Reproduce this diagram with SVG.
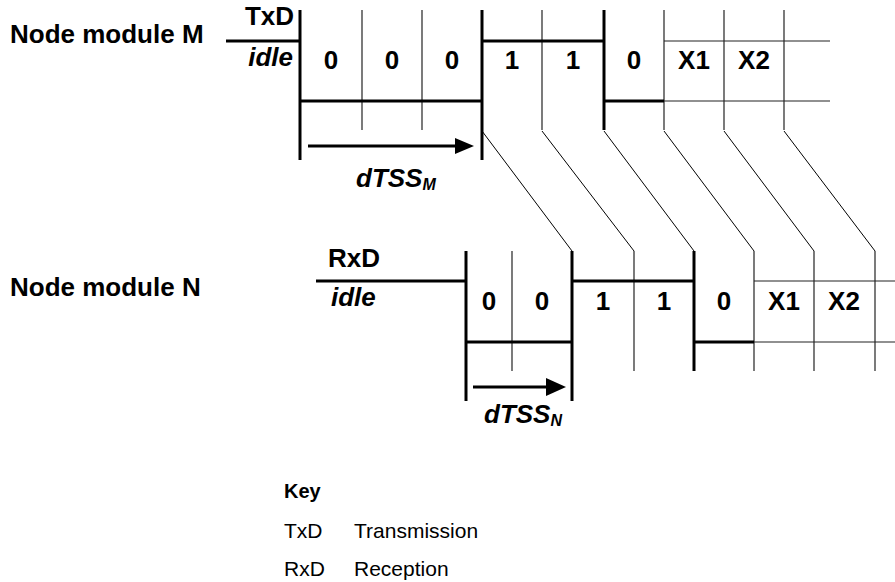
<svg xmlns="http://www.w3.org/2000/svg" width="895" height="582" viewBox="0 0 895 582">
<style>
text{font-family:"Liberation Sans",Arial,Helvetica,sans-serif;fill:#000}
.lbl{font-size:26px;font-weight:bold}
.bi{font-size:26px;font-weight:bold;font-style:italic}
.sub{font-size:16px;font-weight:bold;font-style:italic}
.d{font-size:26px;font-weight:bold;text-anchor:middle}
.k{font-size:21px}
.kb{font-size:20px;font-weight:bold}
.thick{stroke:#000;stroke-width:3;fill:none}
.thin{stroke:#222;stroke-width:1.2;fill:none}
.diag{stroke:#000;stroke-width:1;fill:none}
</style>

<g id="node-M">
<text class="lbl" x="10" y="43">Node module M</text>
<text class="lbl" x="294" y="25" text-anchor="end" font-size="25">TxD</text>
<text class="bi" x="293" y="66" text-anchor="end">idle</text>
<line class="thick" x1="226" y1="41" x2="300" y2="41"/>
<line class="thick" x1="300" y1="10" x2="300" y2="160"/>
<line class="thick" x1="482" y1="10" x2="482" y2="160"/>
<line class="thick" x1="604" y1="10" x2="604" y2="130"/>
<line class="thin" x1="362" y1="10" x2="362" y2="130"/>
<line class="thin" x1="422" y1="10" x2="422" y2="130"/>
<line class="thin" x1="542" y1="10" x2="542" y2="130"/>
<line class="thin" x1="664" y1="10" x2="664" y2="130"/>
<line class="thin" x1="724" y1="10" x2="724" y2="130"/>
<line class="thin" x1="784" y1="10" x2="784" y2="130"/>
<line class="thick" x1="300" y1="101" x2="482" y2="101"/>
<line class="thick" x1="482" y1="41" x2="604" y2="41"/>
<line class="thick" x1="604" y1="101" x2="664" y2="101"/>
<line class="thin" x1="664" y1="41" x2="830" y2="41"/>
<line class="thin" x1="664" y1="101" x2="830" y2="101"/>
<text class="d" x="331" y="69">0</text>
<text class="d" x="392" y="69">0</text>
<text class="d" x="452" y="69">0</text>
<text class="d" x="512" y="69">1</text>
<text class="d" x="573" y="69">1</text>
<text class="d" x="634" y="69">0</text>
<text class="d" x="694" y="69">X1</text>
<text class="d" x="754" y="69">X2</text>
<line class="thick" x1="308" y1="146" x2="456" y2="146"/>
<path d="M455,138 L474,146 L455,154 Z" fill="#000"/>
<text class="bi" x="356" y="187">dTSS<tspan class="sub" dy="3">M</tspan></text>
</g>

<g id="node-N">
<text class="lbl" x="10" y="296">Node module N</text>
<text class="lbl" x="328" y="267">RxD</text>
<text class="bi" x="331" y="306">idle</text>
<line class="thick" x1="316" y1="281" x2="466" y2="281"/>
<line class="thick" x1="466" y1="251" x2="466" y2="401"/>
<line class="thick" x1="572" y1="251" x2="572" y2="401"/>
<line class="thick" x1="694" y1="251" x2="694" y2="371"/>
<line class="thin" x1="512" y1="251" x2="512" y2="371"/>
<line class="thin" x1="634" y1="251" x2="634" y2="371"/>
<line class="thin" x1="754" y1="251" x2="754" y2="371"/>
<line class="thin" x1="814" y1="251" x2="814" y2="371"/>
<line class="thin" x1="875" y1="251" x2="875" y2="371"/>
<line class="thick" x1="466" y1="342" x2="572" y2="342"/>
<line class="thick" x1="572" y1="281" x2="694" y2="281"/>
<line class="thick" x1="694" y1="342" x2="754" y2="342"/>
<line class="thin" x1="754" y1="281" x2="895" y2="281"/>
<line class="thin" x1="754" y1="342" x2="895" y2="342"/>
<text class="d" x="489" y="310">0</text>
<text class="d" x="542" y="310">0</text>
<text class="d" x="603" y="310">1</text>
<text class="d" x="664" y="310">1</text>
<text class="d" x="724" y="310">0</text>
<text class="d" x="784" y="310">X1</text>
<text class="d" x="844" y="310">X2</text>
<line class="thick" x1="473" y1="387" x2="548" y2="387"/>
<path d="M546,378 L566,387 L546,396 Z" fill="#000"/>
<text class="bi" x="484" y="423">dTSS<tspan class="sub" dy="3">N</tspan></text>
</g>

<g id="connectors">
<line class="diag" x1="482" y1="131" x2="572" y2="251"/>
<line class="diag" x1="542" y1="131" x2="634" y2="251"/>
<line class="diag" x1="604" y1="131" x2="694" y2="251"/>
<line class="diag" x1="664" y1="131" x2="754" y2="251"/>
<line class="diag" x1="724" y1="131" x2="814" y2="251"/>
<line class="diag" x1="784" y1="131" x2="875" y2="251"/>
</g>

<g id="key">
<text class="kb" x="284" y="498">Key</text>
<text class="k" x="284" y="538">TxD</text>
<text class="k" x="354" y="538">Transmission</text>
<text class="k" x="284" y="576">RxD</text>
<text class="k" x="354" y="576">Reception</text>
</g>
</svg>
